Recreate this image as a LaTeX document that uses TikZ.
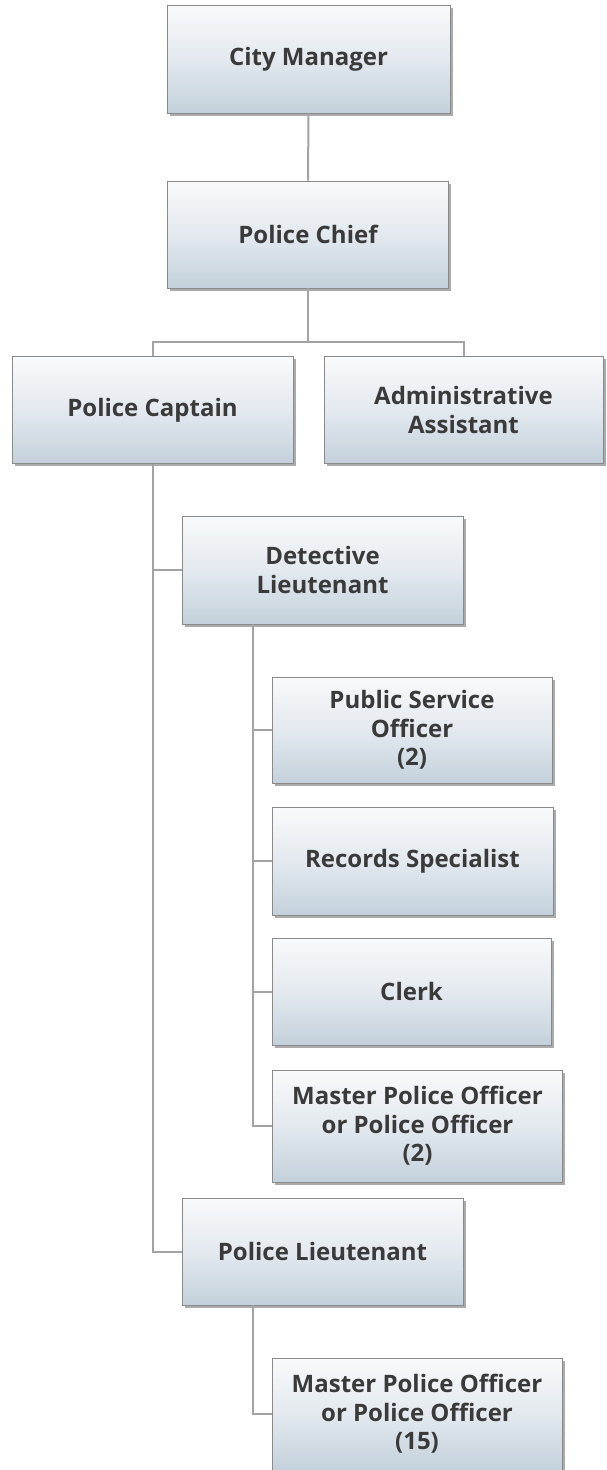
\documentclass[tikz,border=0pt]{standalone}
\usepackage{fontspec}
\setmainfont{Open Sans}
\usetikzlibrary{shadows}
\definecolor{boxtop}{HTML}{F9FAFB}
\definecolor{boxmid}{HTML}{E3E9EF}
\definecolor{boxbot}{HTML}{C3D1DC}
\definecolor{boxline}{HTML}{8A8A8A}
\definecolor{conn}{HTML}{A3A3A3}
\definecolor{txt}{HTML}{3A3A3A}
\tikzset{
  orgbox/.style={rectangle, draw=boxline, line width=0.9pt,
    top color=boxtop, bottom color=boxbot, middle color=boxmid,
    drop shadow={shadow xshift=2.5pt, shadow yshift=-2.5pt, fill=black!55, opacity=0.6},
    minimum width=281pt, minimum height=107pt, inner sep=2pt,
    align=center, text=txt, font=\fontsize{24}{28.5}\selectfont\bfseries},
  widebox/.style={orgbox, minimum width=290pt, minimum height=112pt},
  link/.style={draw=conn, line width=2pt}
}
\begin{document}
\begin{tikzpicture}[x=1pt,y=-1pt]
\useasboundingbox (0,0) rectangle (607,1470);
\clip (0,0) rectangle (607,1470);
\coordinate (j) at (308,342);
\coordinate (dt) at (253,624);
\coordinate (pt) at (253,1305);
\node[orgbox, minimum width=283pt, minimum height=108pt] (cm) at (308.5,59) {City Manager};
\node[orgbox] (chief) at (308,234.5) {Police Chief};
\node[orgbox] (cap) at (152.5,410) {Police Captain};
\node[orgbox, minimum width=279pt] (adm) at (463.5,410) {Administrative\\Assistant};
\node[orgbox, minimum height=108pt] (det) at (322.5,570) {Detective\\Lieutenant};
\node[orgbox, minimum width=280pt, minimum height=106pt] (pso) at (412,730) {Public Service\\Officer\\(2)};
\node[orgbox, minimum height=108pt] (rec) at (412.5,861) {Records Specialist};
\node[orgbox, minimum width=279pt] (clerk) at (411.5,991.5) {Clerk};
\node[widebox] (mpo2) at (417.5,1126) {Master Police Officer\\or Police Officer\\(2)};
\node[orgbox] (plt) at (322.5,1251.5) {Police Lieutenant};
\node[widebox] (mpo15) at (417,1414) {Master Police Officer\\or Police Officer\\(15)};
\draw[link] (cm.south) -- (chief.north);
\draw[link] (chief.south) -- (j);
\draw[link] (cap.north) |- (j) -| (adm.north);
\draw[link] (cap.south) |- (det.west);
\draw[link] (cap.south) |- (plt.west);
\draw[link] (dt) |- (pso.west);
\draw[link] (dt) |- (rec.west);
\draw[link] (dt) |- (clerk.west);
\draw[link] (dt) |- (mpo2.west);
\draw[link] (pt) |- (mpo15.west);
\end{tikzpicture}
\end{document}
